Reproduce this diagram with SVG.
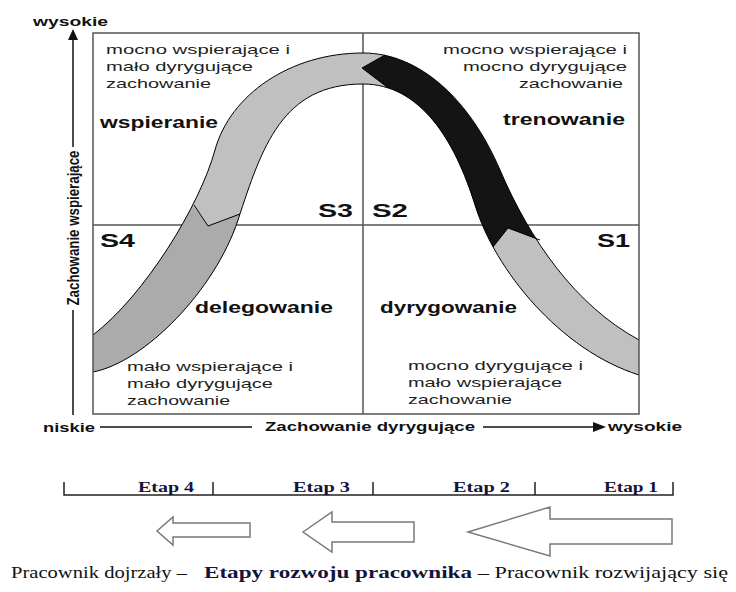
<svg xmlns="http://www.w3.org/2000/svg" width="736" height="592" viewBox="0 0 736 592">
<style>
.q{font-family:"Liberation Sans",Arial,sans-serif;font-size:13.5px;fill:#1e1e1e}
.lb{font-family:"Liberation Sans",Arial,sans-serif;font-size:16px;font-weight:bold;fill:#111}
.s{font-family:"Liberation Sans",Arial,sans-serif;font-size:19px;font-weight:bold;fill:#111}
.ax{font-family:"Liberation Sans",Arial,sans-serif;font-size:13px;font-weight:bold;fill:#111}
.vax{font-family:"Liberation Sans",Arial,sans-serif;font-size:16px;font-weight:bold;fill:#111}
.et{font-family:"Liberation Serif","Times New Roman",serif;font-size:14px;font-weight:bold;fill:#14143a}
.cap{font-family:"Liberation Serif","Times New Roman",serif;font-size:16px;fill:#111}
.capb{font-family:"Liberation Serif","Times New Roman",serif;font-size:16px;font-weight:bold;fill:#14143a}
.grid{stroke:#555;stroke-width:1.5;fill:none}
.edge{stroke:#000;stroke-width:1;fill:none}
.stage{fill:#fff;stroke:#7a7a7a;stroke-width:1.5}
.bar{stroke:#222;stroke-width:1.5;fill:none}
</style>
<defs>
<clipPath id="bandClip">
<path d="M93,335 C145,295 200,205 215,150 C230,95 290,53 363,53 C420,53 470,100 500,170 C530,240 575,305 639,340 L639,375 C560,350 495,270 475,205 C455,140 420,84 363,84 C282,84 262,147 238,220 C215,290 145,362 93,372 Z"/>
</clipPath>
</defs>
<rect width="736" height="592" fill="#fff"/>

<g id="grid">
<line class="grid" x1="363" y1="33" x2="363" y2="414"/>
<line class="grid" x1="93" y1="225" x2="639" y2="225"/>
</g>

<g id="curve">
<g clip-path="url(#bandClip)">
<rect x="80" y="20" width="570" height="400" fill="#c0c0c0"/>
<polygon points="170,176 208,226 270,201 270,450 60,450 60,176" fill="#ababab"/>
<polygon points="385,20 385,55 362,68 387,87 387,140 470,260 493,247 508,228 540,240 585,250 700,250 700,20" fill="#141414"/>
</g>
<path class="edge" d="M93,335 C145,295 200,205 215,150 C230,95 290,53 363,53 C420,53 470,100 500,170 C530,240 575,305 639,340"/>
<path class="edge" d="M93,372 C145,362 215,290 238,220 C262,147 282,84 363,84 C420,84 455,140 475,205 C495,270 560,350 639,375"/>
<polyline class="edge" points="194,205 208,226 240,214"/>
<polyline class="edge" points="385,55 362,68 387,87"/>
<polyline class="edge" points="493,247 508,228 540,240"/>
</g>

<rect id="frame" class="grid" x="93" y="33" width="546" height="381"/>

<g id="quadrant-S3">
<text class="q" x="106" y="54" textLength="184" lengthAdjust="spacingAndGlyphs">mocno wspierające i</text>
<text class="q" x="106" y="71" textLength="147" lengthAdjust="spacingAndGlyphs">mało dyrygujące</text>
<text class="q" x="106" y="88" textLength="105" lengthAdjust="spacingAndGlyphs">zachowanie</text>
<text class="lb" x="100" y="128" textLength="118" lengthAdjust="spacingAndGlyphs">wspieranie</text>
<text class="s" x="318" y="217" textLength="35" lengthAdjust="spacingAndGlyphs">S3</text>
</g>
<g id="quadrant-S2">
<text class="q" x="443" y="54" textLength="184" lengthAdjust="spacingAndGlyphs">mocno wspierające i</text>
<text class="q" x="463" y="71" textLength="164" lengthAdjust="spacingAndGlyphs">mocno dyrygujące</text>
<text class="q" x="519" y="88" textLength="104" lengthAdjust="spacingAndGlyphs">zachowanie</text>
<text class="lb" x="503" y="125" textLength="122" lengthAdjust="spacingAndGlyphs">trenowanie</text>
<text class="s" x="372" y="217" textLength="36" lengthAdjust="spacingAndGlyphs">S2</text>
</g>
<g id="quadrant-S4">
<text class="s" x="100" y="247" textLength="35" lengthAdjust="spacingAndGlyphs">S4</text>
<text class="lb" x="195" y="313" textLength="138" lengthAdjust="spacingAndGlyphs">delegowanie</text>
<text class="q" x="127" y="371" textLength="166" lengthAdjust="spacingAndGlyphs">mało wspierające i</text>
<text class="q" x="127" y="388" textLength="146" lengthAdjust="spacingAndGlyphs">mało dyrygujące</text>
<text class="q" x="127" y="405" textLength="103" lengthAdjust="spacingAndGlyphs">zachowanie</text>
</g>
<g id="quadrant-S1">
<text class="s" x="597" y="247" textLength="33" lengthAdjust="spacingAndGlyphs">S1</text>
<text class="lb" x="380" y="313" textLength="137" lengthAdjust="spacingAndGlyphs">dyrygowanie</text>
<text class="q" x="408" y="370" textLength="175" lengthAdjust="spacingAndGlyphs">mocno dyrygujące i</text>
<text class="q" x="408" y="387" textLength="154" lengthAdjust="spacingAndGlyphs">mało wspierające</text>
<text class="q" x="408" y="404" textLength="104" lengthAdjust="spacingAndGlyphs">zachowanie</text>
</g>

<g id="axes">
<line x1="73" y1="39" x2="73" y2="147" stroke="#111" stroke-width="1.5"/>
<line x1="73" y1="310" x2="73" y2="415" stroke="#111" stroke-width="1.5"/>
<polygon points="73,29 68,40 78,40" fill="#111"/>
<text class="ax" x="33" y="26" textLength="75" lengthAdjust="spacingAndGlyphs">wysokie</text>
<text class="vax" transform="translate(79,228) rotate(-90)" text-anchor="middle" textLength="155" lengthAdjust="spacingAndGlyphs">Zachowanie wspierające</text>
<line x1="100" y1="427" x2="252" y2="427" stroke="#111" stroke-width="1.5"/>
<line x1="483" y1="427" x2="595" y2="427" stroke="#111" stroke-width="1.5"/>
<polygon points="606,427 593,422 593,432" fill="#111"/>
<text class="ax" x="43" y="432" textLength="52" lengthAdjust="spacingAndGlyphs">niskie</text>
<text class="ax" x="265" y="431" textLength="210" lengthAdjust="spacingAndGlyphs">Zachowanie dyrygujące</text>
<text class="ax" x="608" y="431" textLength="74" lengthAdjust="spacingAndGlyphs">wysokie</text>
</g>

<g id="stages">
<polyline class="bar" points="64,482 64,495 673,495 673,482"/>
<line class="bar" x1="213" y1="482" x2="213" y2="495"/>
<line class="bar" x1="373" y1="482" x2="373" y2="495"/>
<line class="bar" x1="535" y1="482" x2="535" y2="495"/>
<text class="et" x="138" y="492" textLength="56" lengthAdjust="spacingAndGlyphs">Etap 4</text>
<text class="et" x="293" y="492" textLength="57" lengthAdjust="spacingAndGlyphs">Etap 3</text>
<text class="et" x="453" y="492" textLength="57" lengthAdjust="spacingAndGlyphs">Etap 2</text>
<text class="et" x="604" y="492" textLength="54" lengthAdjust="spacingAndGlyphs">Etap 1</text>
</g>

<g id="connectors">
<polygon id="arrow-etap4" class="stage" points="157,531 173,517 173,523 250,523 250,537 173,537 173,545"/>
<polygon id="arrow-etap3" class="stage" points="303,532 332,512 332,522 414,522 414,542 332,542 332,552"/>
<polygon id="arrow-etap1" class="stage" points="468,532 550,507 550,519 672,519 672,544 550,544 550,556"/>
</g>

<g id="caption">
<text class="cap" x="11" y="578" textLength="176" lengthAdjust="spacingAndGlyphs">Pracownik dojrzały –</text>
<text class="capb" x="204" y="578" textLength="268" lengthAdjust="spacingAndGlyphs">Etapy rozwoju pracownika</text>
<text class="cap" x="478" y="578" textLength="250" lengthAdjust="spacingAndGlyphs">– Pracownik rozwijający się</text>
</g>
</svg>
